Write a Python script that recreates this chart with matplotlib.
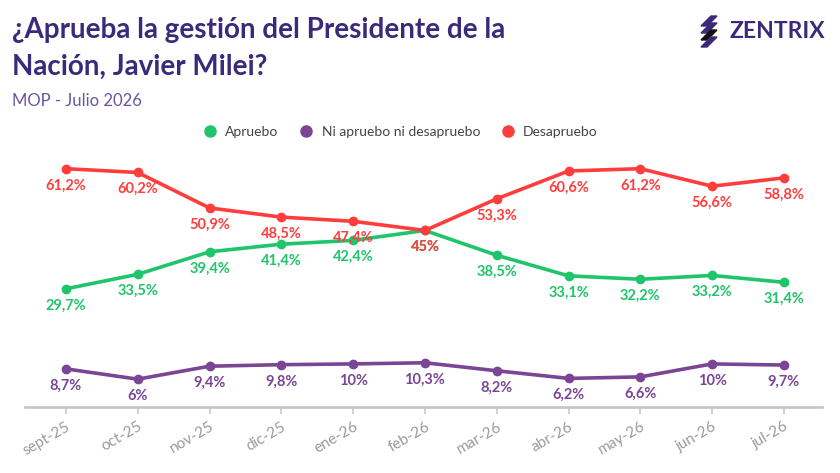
import matplotlib
matplotlib.use("Agg")
import matplotlib.pyplot as plt
from matplotlib.patches import Polygon
from matplotlib.lines import Line2D

months = ["sept-25", "oct-25", "nov-25", "dic-25", "ene-26", "feb-26",
          "mar-26", "abr-26", "may-26", "jun-26", "jul-26"]
apruebo = [29.7, 33.5, 39.4, 41.4, 42.4, 45, 38.5, 33.1, 32.2, 33.2, 31.4]
ni_ni = [8.7, 6, 9.4, 9.8, 10, 10.3, 8.2, 6.2, 6.6, 10, 9.7]
desaprueba = [61.2, 60.2, 50.9, 48.5, 47.4, 45, 53.3, 60.6, 61.2, 56.6, 58.8]

GREEN = "#1fc46b"
PURPLE = "#7a4595"
RED = "#ff3d3d"
TITLE_C = "#3b2a7c"

plt.rcParams["font.family"] = ["Lato", "DejaVu Sans"]


def fmt(v):
    s = f"{v:.1f}".replace(".", ",")
    if s.endswith(",0"):
        s = s[:-2]
    return s + "%"


fig = plt.figure(figsize=(8.4, 4.73), dpi=100)
ax = fig.add_axes([25 / 840, 1 - 407 / 473, (822 - 25) / 840, (407 - 150) / 473])

x = list(range(len(months)))
for vals, col in [(apruebo, GREEN), (ni_ni, PURPLE), (desaprueba, RED)]:
    ax.plot(x, vals, color=col, lw=2.6, marker="o", ms=6, zorder=3)
    for xi, v in zip(x, vals):
        ax.annotate(fmt(v), (xi, v), xytext=(0, -7), textcoords="offset points",
                    ha="center", va="top", color=col, fontsize=10.5,
                    fontweight="bold", zorder=4)

ax.set_xlim(-0.57, 10.53)
ax.set_ylim(-1.3, 66.1)
ax.set_xticks(x)
ax.set_xticklabels(months, rotation=30, ha="right", rotation_mode="anchor",
                   color="#9a9a9a", fontsize=11)
ax.tick_params(axis="x", length=5, color="#c8c8c8", width=1.2, pad=4)
ax.set_yticks([])
for s in ["top", "right", "left"]:
    ax.spines[s].set_visible(False)
ax.spines["bottom"].set_color("#c8c8c8")
ax.spines["bottom"].set_linewidth(2)

# title and subtitle
fig.text(12 / 840, 1 - 30 / 473, "¿Aprueba la gestión del Presidente de la",
         fontsize=20, fontweight="bold", color=TITLE_C, va="center")
fig.text(12 / 840, 1 - 67 / 473, "Nación, Javier Milei?",
         fontsize=20, fontweight="bold", color=TITLE_C, va="center")
fig.text(12 / 840, 1 - 101 / 473, "MOP - Julio 2026",
         fontsize=12, color="#6a559e", va="center")

# legend
handles = [Line2D([], [], ls="", marker="o", ms=8, color=c)
           for c in (GREEN, PURPLE, RED)]
fig.legend(handles, ["Apruebo", "Ni apruebo ni desapruebo", "Desapruebo"],
           loc="center", bbox_to_anchor=(397 / 840, 1 - 132 / 473), ncol=3,
           frameon=False, fontsize=10, handletextpad=0.1, columnspacing=1.0,
           labelcolor="#444444")

# logo
logo = fig.add_axes([698 / 840, 1 - 52 / 473, 30 / 840, 40 / 473])
logo.set_xlim(0, 30)
logo.set_ylim(0, 40)
logo.axis("off")
for i, col in enumerate([TITLE_C, TITLE_C, "#111111", TITLE_C]):
    y0 = 30 - i * 7
    logo.add_patch(Polygon([(3, y0 - 4), (13, y0 + 6), (19, y0 + 6), (9, y0 - 4)],
                           closed=True, color=col))
fig.text(729 / 840, 1 - 31 / 473, "ZENTRIX", fontsize=16.5, fontweight="bold",
         color=TITLE_C, va="center")

fig.savefig("out.png", dpi=100)
